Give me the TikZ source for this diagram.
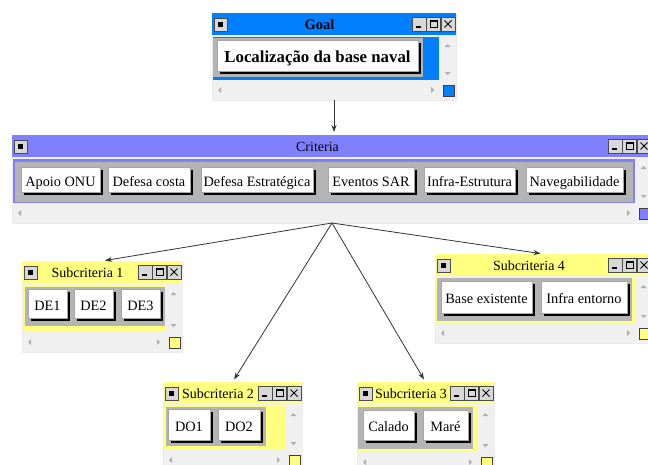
\documentclass[tikz,border=0pt]{standalone}
\usepackage{fontspec}
\setmainfont{Liberation Serif}
\usetikzlibrary{arrows.meta,shadows}
\definecolor{goalblue}{HTML}{0080FF}
\definecolor{critblue}{HTML}{8080FF}
\definecolor{subyel}{HTML}{FFFF80}
\definecolor{winbg}{HTML}{F0F0F0}
\definecolor{holdgray}{HTML}{B4B4B4}
\definecolor{ctlgray}{HTML}{D8D8D8}
\definecolor{arrowgray}{HTML}{B0B0B0}
\tikzset{
  winframe/.style={rectangle, fill=winbg, draw=black!8, inner sep=0pt, outer sep=0pt},
  btn/.style={rectangle, fill=white, draw=black!35, line width=0.8pt, inner sep=0pt, outer sep=0pt,
    general shadow={fill=black, shadow xshift=2.5pt, shadow yshift=-2.5pt},
    text height=13pt, text depth=0pt,
    font=\fontsize{14.3}{16}\selectfont},
  holdfill/.style={fill=holdgray},
  ctl/.style={fill=ctlgray, draw=black!70, line width=0.6pt},
  link/.style={draw=black!80, line width=0.8pt, -{Stealth[length=7pt,width=5pt]}, shorten >=3pt},
  scr/.style={fill=arrowgray},
}
\newcommand\mywin[8]{%
  \node[winframe, minimum width={#4pt-#2pt}, minimum height={#5pt-#3pt}] (#1) at ({(#2+#4)/2},{(#3+#5)/2}) {};
  \fill[#6] (#2,#3) rectangle (#4,#3+22);
  \fill[#6] (#2+1,#3+24) rectangle (#4-17,#5-20);
  \fill[scr] (#4-8.5,#3+31) -- (#4-11.5,#3+34) -- (#4-5.5,#3+34) -- cycle;
  \fill[scr] (#4-8.5,#5-25) -- (#4-11.5,#5-28) -- (#4-5.5,#5-28) -- cycle;
  \fill[scr] (#2+6,#5-10) -- (#2+9,#5-13) -- (#2+9,#5-7) -- cycle;
  \fill[scr] (#4-22,#5-10) -- (#4-25,#5-13) -- (#4-25,#5-7) -- cycle;
  \filldraw[fill=#6, draw=black!75, line width=0.8pt] (#4-13,#5-15) rectangle (#4-2,#5-4);
  \filldraw[ctl] (#2+2,#3+5) rectangle (#2+15,#3+18);
  \fill[black] (#2+6,#3+9) rectangle (#2+11,#3+14);
  \filldraw[ctl] (#4-44,#3+4) rectangle (#4-30,#3+18);
  \filldraw[ctl] (#4-29.5,#3+4) rectangle (#4-15.5,#3+18);
  \filldraw[ctl] (#4-15,#3+4) rectangle (#4-1,#3+18);
  \draw[line width=1.6pt] (#4-40.5,#3+14) -- (#4-35,#3+14);
  \draw[line width=0.8pt] (#4-26,#3+7.5) rectangle (#4-19,#3+14.5);
  \draw[line width=1.5pt] (#4-26,#3+8) -- (#4-19,#3+8);
  \draw[line width=0.9pt] (#4-11.5,#3+7.5) -- (#4-4.5,#3+14.5) (#4-11.5,#3+14.5) -- (#4-4.5,#3+7.5);
  \node[font={#8}, inner sep=0pt] (#1-title) at ({(#2+#4-29)/2},#3+11.5) {#7};
}
\newcommand\holderbox[4]{\fill[holdfill] (#1,#2) rectangle (#3,#4);}
\newcommand\btnbox[7][]{\node[btn,#1, minimum width={#5pt-#3pt}, minimum height={#6pt-#4pt}] (#2) at ({(#3+#5)/2},{(#4+#6)/2}) {#7};}
\begin{document}
\begin{tikzpicture}[x=1pt,y=-1pt]
\path[use as bounding box] (0,0) rectangle (648,464);
\clip (0,0) rectangle (648,464);
\fill[white] (0,0) rectangle (648,464);
% Goal window
\mywin{goal}{212}{13}{456}{100}{goalblue}{Goal}{\bfseries\fontsize{14.5}{16}\selectfont}
\holderbox{213}{38}{423}{77}
\btnbox[font=\bfseries\fontsize{16.8}{18}\selectfont, text height=14.5pt]{gl}{217}{40}{418}{71}{Localização da base naval}
% Criteria window
\mywin{crit}{12}{135}{652}{223}{critblue}{Criteria}{\fontsize{14}{16}\selectfont}
\holderbox{15}{162}{633}{202}
\btnbox{c1}{21}{167}{100}{192}{Apoio ONU}
\btnbox{c2}{108}{167}{190}{192}{Defesa costa}
\btnbox{c3}{201}{167}{313}{192}{Defesa Estratégica}
\btnbox{c4}{328}{167}{414}{192}{Eventos SAR}
\btnbox{c5}{424}{167}{515}{192}{Infra-Estrutura}
\btnbox{c6}{526}{167}{623}{192}{Navegabilidade}
% Subcriteria 1
\mywin{sub1}{22}{261}{182}{352}{subyel}{Subcriteria 1}{\fontsize{14}{16}\selectfont}
\holderbox{25}{287}{165}{326}
\btnbox{s11}{28}{289}{67}{318}{DE1}
\btnbox{s12}{74}{289}{113}{318}{DE2}
\btnbox{s13}{121}{289}{160}{318}{DE3}
% Subcriteria 4
\mywin{sub4}{435}{254}{652}{343}{subyel}{Subcriteria 4}{\fontsize{14}{16}\selectfont}
\holderbox{437}{278}{632}{321}
\btnbox{s41}{441}{281}{532}{313}{Base existente}
\btnbox{s42}{541}{281}{627}{313}{Infra entorno}
% Subcriteria 2
\mywin{sub2}{163}{382}{302}{470}{subyel}{Subcriteria 2}{\fontsize{14}{16}\selectfont}
\holderbox{166}{407}{266}{446}
\btnbox{s21}{168}{409}{210}{440}{DO1}
\btnbox{s22}{218}{409}{260}{440}{DO2}
% Subcriteria 3
\mywin{sub3}{357}{382}{494}{472}{subyel}{Subcriteria 3}{\fontsize{14}{16}\selectfont}
\holderbox{358}{407}{473}{449}
\btnbox{s31}{363}{410}{414}{440}{Calado}
\btnbox{s32}{423}{410}{468}{440}{Maré}
% connectors
\draw[link] (goal.south) -- (goal.south |- crit.north);
\draw[link] (crit.south) -- (sub1.north);
\draw[link] (crit.south) -- (sub2.north);
\draw[link] (crit.south) -- (sub3.north);
\draw[link] (crit.south) -- (sub4.north);
\end{tikzpicture}
\end{document}
